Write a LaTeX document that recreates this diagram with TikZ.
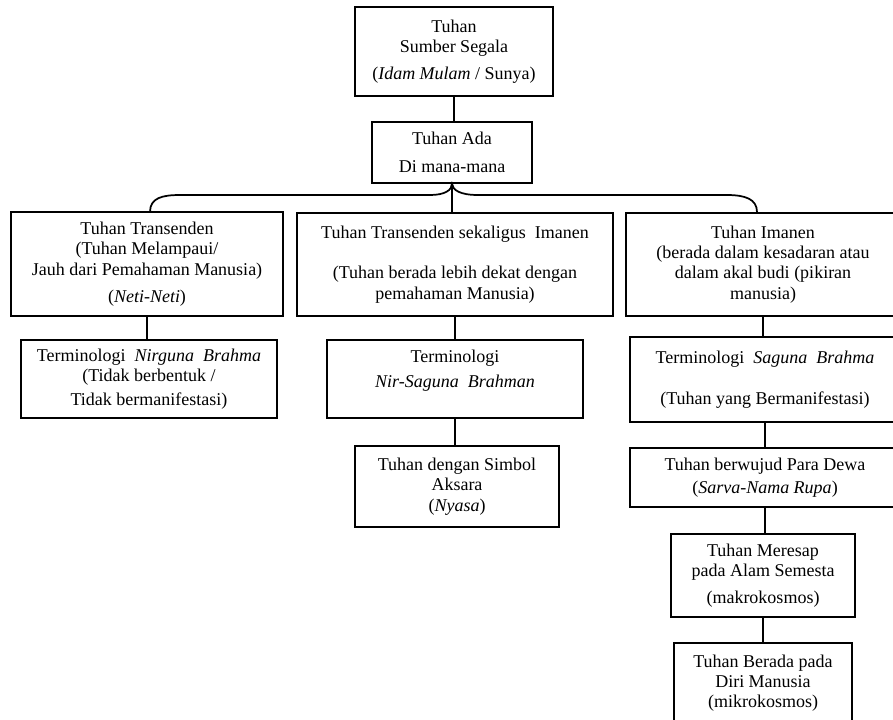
\documentclass[tikz,border=0pt]{standalone}
\usepackage{fontspec}
\setmainfont{Liberation Serif}
\begin{document}
\begin{tikzpicture}[x=0.75pt,y=-0.75pt,
  box/.style args={#1/#2}{draw, line width=1.1pt, align=center,
    minimum width=#1*0.75pt, minimum height=#2*0.75pt, inner sep=0pt,
    font=\fontsize{13.5}{15.2}\selectfont},
  link/.style={line width=1.3pt}]
\useasboundingbox (0,0) rectangle (893,719);
\clip (0,0) rectangle (893,719);

\node[box=198/89] (top) at (454,51.5) {Tuhan\\ Sumber Segala\\[5pt] (\textit{Idam Mulam} / Sunya)};
\node[box=160/61] (ada) at (452,152.5) {Tuhan Ada\\[6pt] Di mana-mana};

\node[box=272/104] (L) at (147,264) {Tuhan Transenden\\ (Tuhan Melampaui/\\ Jauh dari Pemahaman Manusia)\\[5pt] (\textit{Neti-Neti})};
\node[box=316/103] (M) at (455,264.5) {Tuhan Transenden sekaligus\ \ Imanen\\ \mbox{}\\ (Tuhan berada lebih\ dekat dengan\\ pemahaman Manusia)};
\node[box=274/103] (R) at (763,264.5) {Tuhan Imanen\\ (berada dalam\ kesadaran\ atau\\ dalam akal budi (pikiran\\ manusia)};

\node[box=256/78] (Lc) at (149,379) {Terminologi\ \ \textit{Nirguna\ \ Brahma}\\ (Tidak berbentuk\ /\\[3pt] Tidak bermanifestasi)};
\node[box=256/78] (Mc) at (455,379) {Terminologi\\[4pt] \textit{Nir-Saguna\ \ Brahman}\\ \mbox{}};
\node[box=204/81] (ny) at (457,486.5) {Tuhan dengan Simbol\\ Aksara\\ (\textit{Nyasa})};

\node[box=270/85] (sag) at (765,379.5) {Terminologi\ \ \textit{Saguna\ \ Brahma}\\ \mbox{}\\ (Tuhan yang\ Bermanifestasi)};
\node[box=270/59] (dewa) at (765,477.5) {Tuhan berwujud Para Dewa\\[2pt] (\textit{Sarva-Nama\ Rupa})};
\node[box=184/83] (mer) at (763,575.5) {Tuhan Meresap\\ pada Alam Semesta\\[5pt] (makrokosmos)};
\node[box=178/80] (diri) at (763,683) {Tuhan Berada pada\\ Diri Manusia\\ (mikrokosmos)};

% connectors
\draw[link] (top.south) -- (top.south |- ada.north);
\coordinate (braceL) at (150,212);
\coordinate (braceR) at (757,212);
\draw[link] (braceL) .. controls (150,198) and (162,195) .. (180,195) -- (430,195)
  .. controls (445,195) and (452,190) .. (ada.south)
  .. controls (452.5,190) and (460,195) .. (478,195) -- (727,195)
  .. controls (745,195) and (757,199) .. (braceR);
\draw[link] (ada.south) -- (ada.south |- M.north);
\draw[link] (L.south) -- (L.south |- Lc.north);
\draw[link] (M.south) -- (M.south |- Mc.north);
\draw[link] (Mc.south) -- (Mc.south |- ny.north);
\draw[link] (R.south) -- (R.south |- sag.north);
\draw[link] (sag.south) -- (sag.south |- dewa.north);
\draw[link] (dewa.south) -- (dewa.south |- mer.north);
\draw[link] (mer.south) -- (mer.south |- diri.north);
\end{tikzpicture}
\end{document}
